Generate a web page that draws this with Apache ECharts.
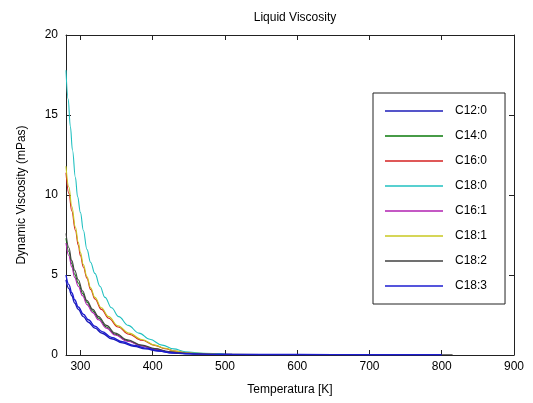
<!DOCTYPE html>
<html><head><meta charset="utf-8">
<script src="https://cdn.jsdelivr.net/npm/echarts@6/dist/echarts.min.js"></script>
<style>html,body{margin:0;padding:0;background:#fff}#c{width:533px;height:403px}</style>
</head><body><div id="c"></div>
<script>
// ---- data ----
const seriesNames = ['C12:0','C14:0','C16:0','C18:0','C16:1','C18:1','C18:2','C18:3'];
const xTicks = [300,400,500,600,700,800,900];
const yTicks = [0,5,10,15,20];

const C12_0 = [[280,4.7],[284,4.15],[288,3.7],[292,3.25],[297,2.85],[304,2.4],[311,2.05],[320,1.68],[330,1.36],[343,1.02],[358,0.76],[374,0.55],[390,0.38],[408,0.24],[427,0.12],[445,0.08],[460,0.06],[485,0.045],[510,0.04]];
const C14_0 = [[280,7.3],[284,6.45],[288,5.7],[292,5.05],[297,4.5],[303,3.85],[309,3.3],[317,2.75],[325,2.3],[336,1.75],[348,1.3],[365,0.9],[385,0.58],[403,0.37],[422,0.2],[436,0.13],[450,0.1],[470,0.06]];
const C16_0 = [[280,11.4],[284,10.1],[288,9.0],[293,7.8],[297,6.85],[300,6.2],[304,5.5],[309,4.8],[314,4.1],[320,3.5],[329,2.85],[339,2.3],[352,1.75],[367,1.3],[385,0.92],[403,0.6],[417,0.4],[431,0.24],[445,0.16],[460,0.1],[480,0.06]];
const C18_0 = [[280,17.8],[283,16.0],[286,14.3],[289,12.8],[293,11.1],[296,9.9],[300,8.9],[304,7.8],[309,6.6],[314,5.8],[320,5.1],[327,4.3],[334,3.6],[343,2.95],[353,2.4],[366,1.85],[381,1.37],[396,0.98],[413,0.62],[429,0.38],[445,0.2],[470,0.1],[500,0.05]];
const C16_1 = [[280,7.0],[284,6.2],[288,5.5],[292,4.85],[297,4.3],[303,3.7],[309,3.15],[317,2.65],[325,2.2],[336,1.68],[348,1.25],[365,0.86],[385,0.56],[403,0.36],[422,0.2],[436,0.13],[450,0.1],[470,0.06]];
const C18_1 = [[280,11.8],[284,10.5],[288,9.3],[293,8.0],[297,7.05],[300,6.4],[304,5.65],[309,4.9],[314,4.2],[320,3.6],[329,2.95],[339,2.4],[352,1.82],[367,1.37],[385,0.97],[403,0.62],[417,0.42],[431,0.25],[445,0.16],[460,0.1],[490,0.05]];
const C18_2 = [[280,7.6],[284,6.7],[288,5.9],[292,5.3],[297,4.7],[303,4.0],[309,3.4],[317,2.85],[325,2.4],[336,1.85],[348,1.37],[365,0.95],[385,0.62],[403,0.4],[422,0.22],[436,0.14],[450,0.1],[480,0.05],[550,0.03],[700,0.02],[815,0.02]];
const C18_3 = [[280,5.0],[284,4.4],[288,3.9],[292,3.45],[297,3.0],[304,2.55],[311,2.2],[320,1.8],[330,1.46],[343,1.1],[358,0.83],[374,0.6],[390,0.43],[408,0.27],[427,0.14],[445,0.09],[460,0.06],[500,0.04],[600,0.03],[700,0.02],[800,0.02]];

const seriesData = [C12_0,C14_0,C16_0,C18_0,C16_1,C18_1,C18_2,C18_3];
const colors = ['#1c1cb8','#0a7a0a','#d42020','#20c0c0','#b020b0','#c8c820','#404040','#1c1cd0'];

const FONT = 'Liberation Sans, Arial, sans-serif';
const chart = echarts.init(document.getElementById('c'), null, {renderer:'canvas'});

const axisCommon = {
  axisLine: {show:true, onZero:false, lineStyle:{color:'#222', width:1}},
  axisTick: {show:true, inside:true, length:5, lineStyle:{color:'#222', width:1}},
  splitLine: {show:false}
};

chart.setOption({
  animation: false,
  backgroundColor: '#fff',
  title: {
    text: 'Liquid Viscosity', left: 290, top: 7, textAlign: 'center',
    textStyle: {fontFamily: FONT, fontSize: 12, fontWeight: 'normal', color: '#000'}
  },
  grid: {left: 66, right: 19, top: 35, bottom: 48, containLabel: false},
  legend: {
    orient: 'vertical', left: 373, top: 93,
    data: seriesNames,
    icon: 'rect',
    backgroundColor: '#fff', borderColor: '#222', borderWidth: 1,
    padding: [11, 18, 11, 12],
    itemWidth: 58, itemHeight: 1.5, itemGap: 11,
    textStyle: {fontFamily: FONT, fontSize: 12, color: '#000', padding: [0,0,0,7], lineHeight: 14}
  },
  xAxis: [
    Object.assign({}, axisCommon, {
      type: 'value', min: 280, max: 900, position: 'bottom',
      name: 'Temperatura [K]', nameLocation: 'middle', nameGap: 29,
      nameTextStyle: {fontFamily: FONT, fontSize: 12, color: '#000'},
      axisTick: Object.assign({}, axisCommon.axisTick, {customValues: xTicks}),
      axisLabel: {customValues: xTicks, fontFamily: FONT, fontSize: 12, color: '#000', margin: 6}
    }),
    Object.assign({}, axisCommon, {
      type: 'value', min: 280, max: 900, position: 'top',
      axisTick: Object.assign({}, axisCommon.axisTick, {customValues: xTicks}),
      axisLabel: {show: false}
    })
  ],
  yAxis: [
    Object.assign({}, axisCommon, {
      type: 'value', min: 0, max: 20, interval: 5, position: 'left',
      name: 'Dynamic Viscosity (mPas)', nameLocation: 'middle', nameGap: 38,
      nameTextStyle: {fontFamily: FONT, fontSize: 12, color: '#000'},
      axisLabel: {fontFamily: FONT, fontSize: 12, color: '#000', margin: 8}
    }),
    Object.assign({}, axisCommon, {
      type: 'value', min: 0, max: 20, interval: 5, position: 'right',
      axisLabel: {show: false}
    })
  ],
  series: seriesNames.map((n, i) => ({
    name: n, type: 'line', data: seriesData[i],
    xAxisIndex: 0, yAxisIndex: 0,
    symbol: 'none', smooth: 0.4, smoothMonotone: 'x',
    lineStyle: {color: colors[i], width: (i===0||i===7) ? 1.4 : 1.1},
    itemStyle: {color: colors[i]}
  }))
});
</script>
</body></html>
